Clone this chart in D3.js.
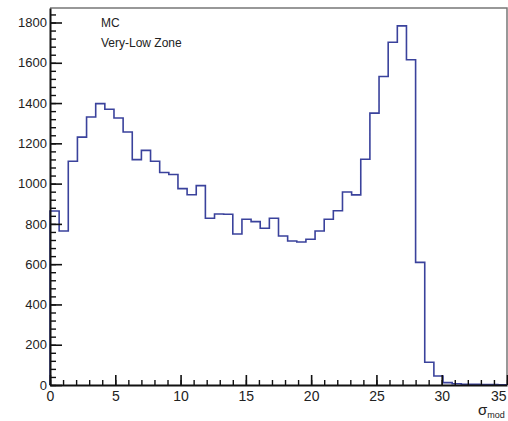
<!DOCTYPE html>
<html>
<head>
<meta charset="utf-8">
<script src="https://cdn.jsdelivr.net/npm/d3@7"></script>
<style>
  body { margin: 0; background: #fff; }
  text { font-family: "Liberation Sans", Arial, sans-serif; fill: #222; }
</style>
</head>
<body>
<div id="my_dataviz"></div>
<script>
// histogram: 50 bins of 0.7 from 0 to 35
var binLow = 0, binWidth = 0.7;
var counts = [864, 765, 1111, 1231, 1331, 1397, 1369, 1326, 1256, 1119,
              1165, 1111, 1055, 1045, 975, 945, 990, 828, 849, 848,
              750, 823, 811, 778, 828, 740, 715, 710, 724, 765,
              823, 865, 958, 944, 1121, 1350, 1532, 1702, 1783, 1615,
              609, 113, 45, 12, 6, 4, 3, 2, 2, 1];
var yMajor = [0, 200, 400, 600, 800, 1000, 1200, 1400, 1600, 1800];
var xMajor = [0, 5, 10, 15, 20, 25, 30, 35];
var legendLines = ["MC", "Very-Low Zone"];

var margin = {top: 8, right: 1, bottom: 36, left: 50},
    width = 508 - margin.left - margin.right,
    height = 421 - margin.top - margin.bottom;

var svg = d3.select("#my_dataviz")
  .append("svg")
    .attr("width", 508)
    .attr("height", 421)
  .append("g")
    .attr("transform", "translate(" + margin.left + "," + margin.top + ")");

var x = d3.scaleLinear()
    .domain([binLow, binLow + binWidth * counts.length])
    .range([0, width]);

var y = d3.scaleLinear()
    .domain([0, 1872])
    .range([height, 0]);

// frame (top / right)
svg.append("path")
    .attr("d", "M0,0H" + width + "V" + height)
    .attr("fill", "none")
    .attr("stroke", "#777")
    .attr("stroke-width", 1.5);

// outline of the histogram
var pts = [[binLow, 0]];
counts.forEach(function(c, i) {
  pts.push([binLow + i * binWidth, c]);
  pts.push([binLow + (i + 1) * binWidth, c]);
});
pts.push([binLow + counts.length * binWidth, 0]);

var line = d3.line()
    .x(function(d) { return x(d[0]); })
    .y(function(d) { return y(d[1]); });

svg.append("path")
    .datum(pts)
    .attr("d", line)
    .attr("fill", "none")
    .attr("stroke", "#3a429c")
    .attr("stroke-width", 1.6);

// minor ticks
var yMinor = d3.range(0, 1861, 40);
var xMinor = d3.range(0, 35.01, 1);

svg.append("g")
    .call(d3.axisLeft(y).tickValues(yMinor).tickSize(-6).tickSizeOuter(0).tickFormat(""))
    .call(g => g.select(".domain").remove())
    .selectAll("line").attr("stroke", "#111").attr("stroke-width", 1.4);

svg.append("g")
    .attr("transform", "translate(0," + height + ")")
    .call(d3.axisBottom(x).tickValues(xMinor).tickSize(-5).tickSizeOuter(0).tickFormat(""))
    .call(g => g.select(".domain").remove())
    .selectAll("line").attr("stroke", "#111").attr("stroke-width", 1.4);

// major ticks + labels
var yAxis = svg.append("g")
    .call(d3.axisLeft(y).tickValues(yMajor).tickSize(-12).tickSizeOuter(0)
      .tickPadding(3).tickFormat(d3.format("d")));
yAxis.select(".domain").attr("stroke", "#111").attr("stroke-width", 2);
yAxis.selectAll("line").attr("stroke", "#111").attr("stroke-width", 1.6);
yAxis.selectAll("text").style("font-size", "13px").attr("fill", "#222");

var xAxis = svg.append("g")
    .attr("transform", "translate(0," + height + ")")
    .call(d3.axisBottom(x).tickValues(xMajor).tickSize(-10).tickSizeOuter(0)
      .tickPadding(6).tickFormat(d3.format("d")));
xAxis.select(".domain").attr("stroke", "#111").attr("stroke-width", 2);
xAxis.selectAll("line").attr("stroke", "#111").attr("stroke-width", 1.6);
xAxis.selectAll("text").style("font-size", "14px").attr("fill", "#222");
// last label sits at the page edge: keep it inside
xAxis.selectAll("text").filter(function(d) { return d === 35; })
    .attr("text-anchor", "end").attr("dx", -1);

// x title
var xt = svg.append("text")
    .attr("x", 428)
    .attr("y", height + 30)
    .style("font-size", "15px");
xt.append("tspan").text("σ");
xt.append("tspan").attr("dy", 3).style("font-size", "9px").text("mod");

// labels in the pad
svg.selectAll(".lbl")
  .data(legendLines)
  .enter()
  .append("text")
    .attr("class", "lbl")
    .attr("x", 51)
    .attr("y", function(d, i) { return 19 + i * 20; })
    .style("font-size", "12px")
    .text(function(d) { return d; });
</script>
</body>
</html>
